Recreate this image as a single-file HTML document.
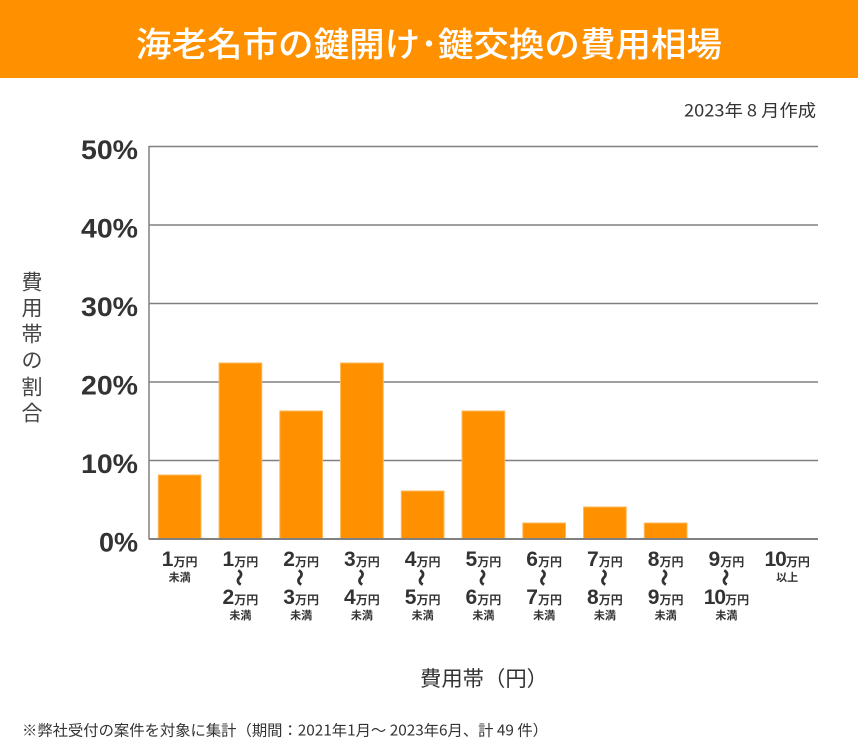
<!DOCTYPE html>
<html><head><meta charset="utf-8"><style>
html,body{margin:0;padding:0;background:#fff;}
svg{display:block;}
text{font-family:"Liberation Sans","Noto Sans CJK JP",sans-serif;}
.jp{font-family:"Noto Sans CJK JP","Liberation Sans",sans-serif;}
.wv{font-family:"Noto Sans CJK JP","Liberation Sans",sans-serif;font-size:17px;font-weight:bold;stroke:#333;stroke-width:0.6;}
</style></head><body>
<svg width="858" height="744" viewBox="0 0 858 744" xmlns="http://www.w3.org/2000/svg">
<rect x="0" y="0" width="858" height="744" fill="#fff"/>
<rect x="0" y="0" width="858" height="78" fill="#FF9100"/>
<text x="429" y="42" class="jp" font-size="34" font-weight="500" fill="#fff" text-anchor="middle" dominant-baseline="central" textLength="586" lengthAdjust="spacingAndGlyphs">海老名市の鍵開け･鍵交換の費用相場</text>
<text x="816" y="109" class="jp" font-size="17" fill="#333" text-anchor="end" dominant-baseline="central" textLength="132" lengthAdjust="spacingAndGlyphs">2023年 8 月作成</text>

<!-- gridlines -->
<g stroke="#808080" stroke-width="1.5">
<line x1="149" y1="146.5" x2="818" y2="146.5"/>
<line x1="149" y1="225" x2="818" y2="225"/>
<line x1="149" y1="303.5" x2="818" y2="303.5"/>
<line x1="149" y1="382" x2="818" y2="382"/>
<line x1="149" y1="460.5" x2="818" y2="460.5"/>
<line x1="149" y1="146" x2="149" y2="539.5"/>
</g>

<!-- y tick labels -->
<g font-size="27" font-weight="bold" fill="#333" text-anchor="end" dominant-baseline="central">
<text x="138" y="150" textLength="57" lengthAdjust="spacingAndGlyphs">50%</text>
<text x="138" y="228.5" textLength="57" lengthAdjust="spacingAndGlyphs">40%</text>
<text x="138" y="307" textLength="57" lengthAdjust="spacingAndGlyphs">30%</text>
<text x="138" y="385.5" textLength="57" lengthAdjust="spacingAndGlyphs">20%</text>
<text x="138" y="464" textLength="57" lengthAdjust="spacingAndGlyphs">10%</text>
<text x="138" y="542.5">0%</text>
</g>

<!-- y axis title -->
<g class="jp" font-size="21" fill="#444" text-anchor="middle" dominant-baseline="central">
<text x="32" y="283">費</text>
<text x="32" y="309">用</text>
<text x="32" y="335">帯</text>
<text x="32" y="361">の</text>
<text x="32" y="388">割</text>
<text x="32" y="414">合</text>
</g>

<!-- bars -->
<g fill="#FF9100" stroke="#FFB857" stroke-width="1">
<rect x="158.3" y="475.0" width="42.7" height="64.0"/>
<rect x="219.05" y="363.0" width="42.7" height="176.0"/>
<rect x="279.8" y="411.0" width="42.7" height="128.0"/>
<rect x="340.55" y="363.0" width="42.7" height="176.0"/>
<rect x="401.3" y="491.0" width="42.7" height="48.0"/>
<rect x="462.05" y="411.0" width="42.7" height="128.0"/>
<rect x="522.8" y="523.0" width="42.7" height="16.0"/>
<rect x="583.55" y="507.0" width="42.7" height="32.0"/>
<rect x="644.3" y="523.0" width="42.7" height="16.0"/>
</g>
<line x1="149" y1="539" x2="818" y2="539" stroke="#808080" stroke-width="2"/>

<!-- x labels -->
<g fill="#333" text-anchor="middle" font-weight="bold">
<text x="179.65" y="566"><tspan font-size="21">1</tspan><tspan class="jp" font-size="12">万円</tspan></text>
<text x="179.65" y="581" class="jp" font-size="11">未満</text>

<text x="240.4" y="566"><tspan font-size="21">1</tspan><tspan class="jp" font-size="12">万円</tspan></text>
<text x="240.4" y="577.5" class="wv" dominant-baseline="central" transform="rotate(90 240.4 577.5)">〜</text>
<text x="240.4" y="604"><tspan font-size="21">2</tspan><tspan class="jp" font-size="12">万円</tspan></text>
<text x="240.4" y="619" class="jp" font-size="11">未満</text>

<text x="301.15" y="566"><tspan font-size="21">2</tspan><tspan class="jp" font-size="12">万円</tspan></text>
<text x="301.15" y="577.5" class="wv" dominant-baseline="central" transform="rotate(90 301.15 577.5)">〜</text>
<text x="301.15" y="604"><tspan font-size="21">3</tspan><tspan class="jp" font-size="12">万円</tspan></text>
<text x="301.15" y="619" class="jp" font-size="11">未満</text>

<text x="361.9" y="566"><tspan font-size="21">3</tspan><tspan class="jp" font-size="12">万円</tspan></text>
<text x="361.9" y="577.5" class="wv" dominant-baseline="central" transform="rotate(90 361.9 577.5)">〜</text>
<text x="361.9" y="604"><tspan font-size="21">4</tspan><tspan class="jp" font-size="12">万円</tspan></text>
<text x="361.9" y="619" class="jp" font-size="11">未満</text>

<text x="422.65" y="566"><tspan font-size="21">4</tspan><tspan class="jp" font-size="12">万円</tspan></text>
<text x="422.65" y="577.5" class="wv" dominant-baseline="central" transform="rotate(90 422.65 577.5)">〜</text>
<text x="422.65" y="604"><tspan font-size="21">5</tspan><tspan class="jp" font-size="12">万円</tspan></text>
<text x="422.65" y="619" class="jp" font-size="11">未満</text>

<text x="483.4" y="566"><tspan font-size="21">5</tspan><tspan class="jp" font-size="12">万円</tspan></text>
<text x="483.4" y="577.5" class="wv" dominant-baseline="central" transform="rotate(90 483.4 577.5)">〜</text>
<text x="483.4" y="604"><tspan font-size="21">6</tspan><tspan class="jp" font-size="12">万円</tspan></text>
<text x="483.4" y="619" class="jp" font-size="11">未満</text>

<text x="544.15" y="566"><tspan font-size="21">6</tspan><tspan class="jp" font-size="12">万円</tspan></text>
<text x="544.15" y="577.5" class="wv" dominant-baseline="central" transform="rotate(90 544.15 577.5)">〜</text>
<text x="544.15" y="604"><tspan font-size="21">7</tspan><tspan class="jp" font-size="12">万円</tspan></text>
<text x="544.15" y="619" class="jp" font-size="11">未満</text>

<text x="604.9" y="566"><tspan font-size="21">7</tspan><tspan class="jp" font-size="12">万円</tspan></text>
<text x="604.9" y="577.5" class="wv" dominant-baseline="central" transform="rotate(90 604.9 577.5)">〜</text>
<text x="604.9" y="604"><tspan font-size="21">8</tspan><tspan class="jp" font-size="12">万円</tspan></text>
<text x="604.9" y="619" class="jp" font-size="11">未満</text>

<text x="665.65" y="566"><tspan font-size="21">8</tspan><tspan class="jp" font-size="12">万円</tspan></text>
<text x="665.65" y="577.5" class="wv" dominant-baseline="central" transform="rotate(90 665.65 577.5)">〜</text>
<text x="665.65" y="604"><tspan font-size="21">9</tspan><tspan class="jp" font-size="12">万円</tspan></text>
<text x="665.65" y="619" class="jp" font-size="11">未満</text>

<text x="726.4" y="566"><tspan font-size="21">9</tspan><tspan class="jp" font-size="12">万円</tspan></text>
<text x="726.4" y="577.5" class="wv" dominant-baseline="central" transform="rotate(90 726.4 577.5)">〜</text>
<text x="726.4" y="604"><tspan font-size="21" letter-spacing="-1">10</tspan><tspan class="jp" font-size="12">万円</tspan></text>
<text x="726.4" y="619" class="jp" font-size="11">未満</text>

<text x="787.15" y="566"><tspan font-size="21" letter-spacing="-1">10</tspan><tspan class="jp" font-size="12">万円</tspan></text>
<text x="787.15" y="581" class="jp" font-size="11">以上</text>
</g>

<text x="484" y="678" class="jp" font-size="21" fill="#333" text-anchor="middle" dominant-baseline="central" textLength="128" lengthAdjust="spacingAndGlyphs">費用帯（円）</text>

<text x="22" y="730" class="jp" font-size="15" fill="#333" dominant-baseline="central" textLength="526" lengthAdjust="spacingAndGlyphs">※弊社受付の案件を対象に集計（期間：2021年1月～ 2023年6月、計 49 件）</text>
</svg>
</body></html>
